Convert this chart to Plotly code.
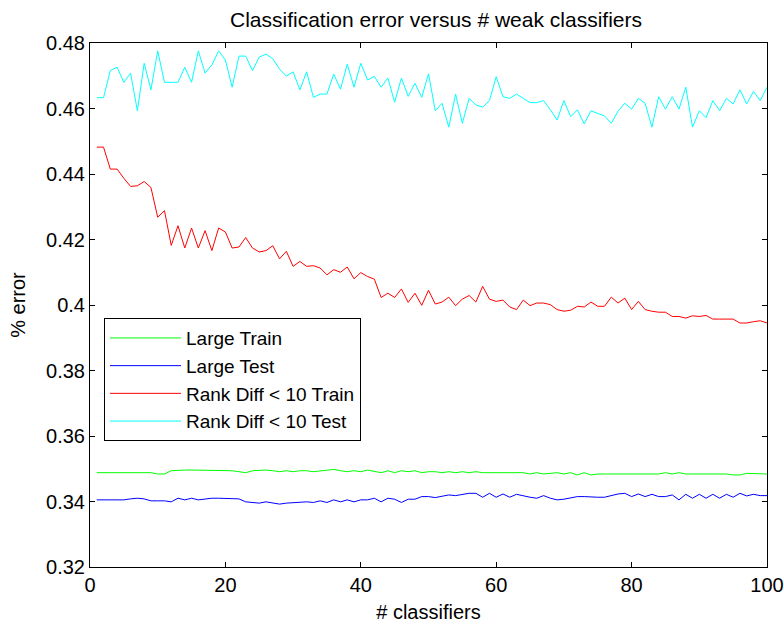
import plotly.graph_objects as go

classifiers = list(range(1, 101))

large_train = [
    0.3488, 0.3488, 0.3488, 0.3488, 0.3488, 0.3488, 0.3488, 0.3488, 0.3488, 0.3484,
    0.3484, 0.3494, 0.3496, 0.3496, 0.3496, 0.3496, 0.3496, 0.3496, 0.3496, 0.3496,
    0.3494, 0.3491, 0.3488, 0.3494, 0.3496, 0.3496, 0.3494, 0.3491, 0.3494, 0.3491,
    0.3494, 0.3494, 0.3491, 0.3494, 0.3496, 0.3498, 0.3494, 0.3491, 0.3494, 0.3491,
    0.3496, 0.3491, 0.3488, 0.3494, 0.3488, 0.3494, 0.3491, 0.3494, 0.3488, 0.3491,
    0.3491, 0.3488, 0.3491, 0.3488, 0.3491, 0.3488, 0.3491, 0.3488, 0.3488, 0.3488,
    0.3488, 0.3488, 0.3488, 0.3488, 0.3484, 0.3488, 0.3484, 0.3486, 0.3488, 0.3484,
    0.3488, 0.3481, 0.3488, 0.3481, 0.3484, 0.3484, 0.3484, 0.3484, 0.3484, 0.3484,
    0.3484, 0.3484, 0.3484, 0.3484, 0.3488, 0.3484, 0.3488, 0.3484, 0.3484, 0.3484,
    0.3484, 0.3484, 0.3484, 0.3484, 0.3481, 0.3481, 0.3486, 0.3486, 0.3484, 0.3484,
]

large_test = [
    0.3405, 0.3405, 0.3405, 0.3405, 0.3405, 0.3408, 0.3410, 0.3408, 0.3402, 0.3402,
    0.3402, 0.3399, 0.3410, 0.3405, 0.3410, 0.3405, 0.3408, 0.3410, 0.3410, 0.3410,
    0.3410, 0.3408, 0.3399, 0.3397, 0.3395, 0.3399, 0.3396, 0.3392, 0.3395, 0.3396,
    0.3396, 0.3399, 0.3397, 0.3402, 0.3397, 0.3405, 0.3399, 0.3405, 0.3399, 0.3405,
    0.3405, 0.3410, 0.3399, 0.3410, 0.3407, 0.3397, 0.3407, 0.3407, 0.3415, 0.3415,
    0.3412, 0.3415, 0.3420, 0.3418, 0.3422, 0.3425, 0.3425, 0.3413, 0.3425, 0.3413,
    0.3423, 0.3413, 0.3422, 0.3417, 0.3413, 0.3410, 0.3418, 0.3410, 0.3405, 0.3407,
    0.3410, 0.3415, 0.3415, 0.3413, 0.3413, 0.3413, 0.3418, 0.3423, 0.3425, 0.3415,
    0.3423, 0.3415, 0.3422, 0.3415, 0.3415, 0.3420, 0.3405, 0.3422, 0.3410, 0.3422,
    0.3410, 0.3422, 0.3410, 0.3422, 0.3413, 0.3425, 0.3417, 0.3422, 0.3418, 0.3418,
]

rank_train = [
    0.4482, 0.4482, 0.4415, 0.4415, 0.4387, 0.4362, 0.4364, 0.4377, 0.4359, 0.4268,
    0.4288, 0.4182, 0.4242, 0.4174, 0.4235, 0.4174, 0.4227, 0.4166, 0.4235, 0.4223,
    0.4174, 0.4177, 0.4206, 0.4174, 0.4162, 0.4166, 0.4181, 0.4141, 0.4164, 0.4118,
    0.4133, 0.4118, 0.4120, 0.4113, 0.4092, 0.4108, 0.4100, 0.4116, 0.4080, 0.4099,
    0.4087, 0.4079, 0.4023, 0.4036, 0.4023, 0.4049, 0.4008, 0.4036, 0.3999, 0.4045,
    0.4003, 0.4009, 0.4024, 0.3998, 0.4018, 0.4029, 0.4009, 0.4057, 0.4018, 0.4011,
    0.4015, 0.3994, 0.3986, 0.4015, 0.3998, 0.4006, 0.4006, 0.4001, 0.3986, 0.3981,
    0.3984, 0.3996, 0.3994, 0.4009, 0.3996, 0.3996, 0.4024, 0.4006, 0.4021, 0.3986,
    0.4011, 0.3986, 0.3981, 0.3978, 0.3978, 0.3965, 0.3965, 0.3960, 0.3967, 0.3965,
    0.3968, 0.3957, 0.3957, 0.3957, 0.3957, 0.3945, 0.3945, 0.3949, 0.3952, 0.3945,
]

rank_test = [
    0.4633, 0.4633, 0.4716, 0.4726, 0.4680, 0.4708, 0.4593, 0.4738, 0.4657, 0.4776,
    0.4680, 0.4680, 0.4680, 0.4726, 0.4680, 0.4776, 0.4708, 0.4733, 0.4776, 0.4748,
    0.4665, 0.4760, 0.4760, 0.4716, 0.4757, 0.4766, 0.4752, 0.4720, 0.4699, 0.4712,
    0.4657, 0.4712, 0.4634, 0.4644, 0.4644, 0.4705, 0.4659, 0.4735, 0.4665, 0.4738,
    0.4687, 0.4698, 0.4665, 0.4693, 0.4619, 0.4693, 0.4637, 0.4677, 0.4634, 0.4706,
    0.4593, 0.4616, 0.4543, 0.4644, 0.4555, 0.4631, 0.4611, 0.4604, 0.4624, 0.4697,
    0.4636, 0.4631, 0.4644, 0.4631, 0.4618, 0.4618, 0.4624, 0.4596, 0.4565, 0.4624,
    0.4575, 0.4596, 0.4553, 0.4593, 0.4586, 0.4577, 0.4555, 0.4592, 0.4616, 0.4598,
    0.4631, 0.4616, 0.4543, 0.4636, 0.4598, 0.4636, 0.4598, 0.4665, 0.4543, 0.4593,
    0.4572, 0.4624, 0.4593, 0.4631, 0.4614, 0.4657, 0.4614, 0.4652, 0.4624, 0.4665,
]

series_names = ["Large Train", "Large Test", "Rank Diff < 10 Train", "Rank Diff < 10 Test"]
series_colors = ["#00ff00", "#0000ff", "#ff0000", "#00ffff"]
series_values = [large_train, large_test, rank_train, rank_test]

y_tickvals = [0.32, 0.34, 0.36, 0.38, 0.40, 0.42, 0.44, 0.46, 0.48]
y_ticktext = ["0.32", "0.34", "0.36", "0.38", "0.4", "0.42", "0.44", "0.46", "0.48"]
x_tickvals = [0, 20, 40, 60, 80, 100]

FONT = "Liberation Sans, Arial, sans-serif"

fig = go.Figure()
for name, color, vals in zip(series_names, series_colors, series_values):
    fig.add_trace(go.Scatter(x=classifiers, y=vals, mode="lines", name=name,
                             line=dict(color=color, width=1)))

W, H = 784, 626
fig.update_layout(
    width=W, height=H,
    paper_bgcolor="white", plot_bgcolor="white",
    margin=dict(l=90, r=17, t=43, b=59, autoexpand=False),
    font=dict(family=FONT, size=20, color="black"),
    title=dict(text="Classification error versus # weak classifiers",
               x=436 / W, xref="container", xanchor="center",
               y=1 - 20 / H, yref="container", yanchor="middle",
               font=dict(family=FONT, size=21, color="black")),
    showlegend=True,
    legend=dict(x=14 / 677, y=0.475, xanchor="left", yanchor="top",
                bgcolor="white", bordercolor="black", borderwidth=1,
                font=dict(family=FONT, size=19, color="black"),
                tracegroupgap=0, itemwidth=71,
                entrywidth=196, entrywidthmode="pixels"),
)
fig.update_xaxes(range=[0, 100], tickvals=x_tickvals, ticks="inside", ticklen=5,
                 tickcolor="black", showline=True, linecolor="black", linewidth=1,
                 mirror="ticks", showgrid=False, zeroline=False, automargin=False,
                 title=dict(text="# classifiers", standoff=9,
                            font=dict(family=FONT, size=20)),
                 tickfont=dict(family=FONT, size=20))
fig.update_yaxes(range=[0.32, 0.48], tickvals=y_tickvals, ticktext=y_ticktext,
                 ticks="inside", ticklen=5, tickcolor="black", showline=True,
                 linecolor="black", linewidth=1, mirror="ticks", showgrid=False,
                 zeroline=False, automargin=False,
                 title=dict(text="% error", standoff=15, font=dict(family=FONT, size=20)),
                 tickfont=dict(family=FONT, size=20))

# remove the browser's default 8px body margin so the figure fills the window
fig.write_html("out.html", config={"displayModeBar": False},
               post_script="document.body.style.margin='0';")
